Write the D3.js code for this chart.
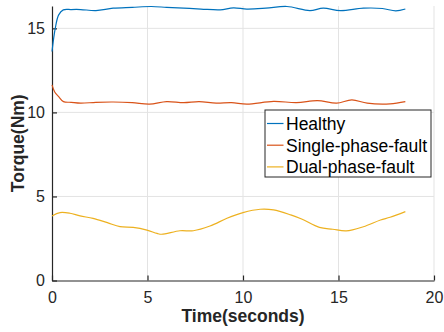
<!DOCTYPE html>
<html>
<head>
<meta charset="utf-8">
<script src="https://cdn.jsdelivr.net/npm/d3@7"></script>
<style>
  body { margin: 0; background: #fff; }
  svg { display: block; font-family: "Liberation Sans", Arial, sans-serif; }
</style>
</head>
<body>
<div id="chart"></div>
<script>
// values
const seriesNames = ['Healthy', 'Single-phase-fault', 'Dual-phase-fault'];
const seriesColors = ['#0072BD', '#D95319', '#EDB120'];

const healthyT = [0, 0.17, 0.35, 0.59, 1.0, 1.5, 2.3, 3.2, 4.2, 5.2, 6.0, 6.9, 7.8, 8.8, 9.5, 10.2, 11.2, 12.3, 13.5, 14.2, 15.1, 16.3, 17.3, 18.0, 18.5];
const healthyV = [13.62, 15.0, 15.8, 16.1, 16.12, 16.12, 16.06, 16.2, 16.25, 16.3, 16.25, 16.2, 16.15, 16.1, 16.22, 16.15, 16.2, 16.3, 16.06, 16.2, 16.06, 16.2, 16.18, 16.04, 16.15];

const singleT = [0, 0.15, 0.35, 0.6, 1.0, 1.5, 2.3, 3.2, 4.2, 5.1, 6.0, 6.9, 7.7, 8.6, 9.4, 10.2, 11.6, 12.8, 13.9, 14.9, 15.7, 16.5, 17.7, 18.5];
const singleV = [11.64, 11.2, 10.94, 10.64, 10.6, 10.55, 10.6, 10.62, 10.58, 10.49, 10.64, 10.58, 10.64, 10.55, 10.58, 10.49, 10.66, 10.58, 10.70, 10.55, 10.74, 10.55, 10.51, 10.64];

const dualT = [0, 0.42, 0.94, 1.47, 2.15, 2.9, 3.56, 4.25, 4.97, 5.5, 5.74, 6.7, 7.4, 8.27, 9.16, 10.0, 10.9, 11.6, 12.5, 13.1, 14.0, 14.7, 15.4, 16.3, 17.2, 17.7, 18.5];
const dualV = [3.84, 4.04, 4.0, 3.84, 3.70, 3.44, 3.2, 3.16, 3.0, 2.8, 2.75, 2.96, 2.96, 3.24, 3.70, 4.04, 4.24, 4.2, 3.9, 3.64, 3.16, 3.05, 2.95, 3.2, 3.6, 3.76, 4.1];

const xTicks = [0, 5, 10, 15, 20];
const yTicks = [0, 5, 10, 15];

const W = 444, H = 332;
const margin = { top: 6, right: 10, bottom: 51.5, left: 52 };
const width = W - margin.left - margin.right;
const height = H - margin.top - margin.bottom;

const x = d3.scaleLinear().domain([0, 20]).range([0, width]);
const y = d3.scaleLinear().domain([0, 16.33]).range([height, 0]);

const svg = d3.select('#chart').append('svg')
  .attr('width', W)
  .attr('height', H);
const g = svg.append('g')
  .attr('transform', 'translate(' + margin.left + ',' + margin.top + ')');

// grid
g.append('g').selectAll('line.gx')
  .data(xTicks.filter(d => d > 0))
  .enter().append('line')
  .attr('x1', d => x(d)).attr('x2', d => x(d))
  .attr('y1', 0).attr('y2', height)
  .attr('stroke', '#e3e3e3').attr('stroke-width', 1);
g.append('g').selectAll('line.gy')
  .data(yTicks.filter(d => d > 0))
  .enter().append('line')
  .attr('x1', 0).attr('x2', width)
  .attr('y1', d => y(d)).attr('y2', d => y(d))
  .attr('stroke', '#e3e3e3').attr('stroke-width', 1);

// axes
const axisColor = '#262626';
const xAxis = g.append('g')
  .attr('transform', 'translate(0,' + height + ')')
  .call(d3.axisBottom(x).tickValues(xTicks).tickSizeInner(-5).tickSizeOuter(0).tickPadding(11));
const yAxis = g.append('g')
  .call(d3.axisLeft(y).tickValues(yTicks).tickSizeInner(-5).tickSizeOuter(0).tickPadding(7));
[xAxis, yAxis].forEach(a => {
  a.select('.domain').attr('stroke', axisColor).attr('stroke-width', 1.2);
  a.selectAll('.tick line').attr('stroke', axisColor).attr('stroke-width', 1.2);
  a.selectAll('.tick text')
    .attr('fill', axisColor)
    .style('font-size', '16px')
    .style('font-family', '"Liberation Sans", Arial, sans-serif');
});

// series
const series = [
  { t: healthyT, v: healthyV },
  { t: singleT, v: singleV },
  { t: dualT, v: dualV }
];
const line = d3.line()
  .x(d => x(d[0]))
  .y(d => y(d[1]))
  .curve(d3.curveCatmullRom.alpha(0.5));

series.forEach((s, i) => {
  g.append('path')
    .datum(s.t.map((t, j) => [t, s.v[j]]))
    .attr('fill', 'none')
    .attr('stroke', seriesColors[i])
    .attr('stroke-width', 1.2)
    .attr('d', line);
});

// axis labels
svg.append('text')
  .attr('x', margin.left + width / 2)
  .attr('y', 322)
  .attr('text-anchor', 'middle')
  .attr('font-weight', 'bold')
  .attr('font-size', '17.5px')
  .attr('fill', axisColor)
  .text('Time(seconds)');

svg.append('text')
  .attr('transform', 'translate(24,' + (margin.top + height / 2) + ') rotate(-90)')
  .attr('text-anchor', 'middle')
  .attr('font-weight', 'bold')
  .attr('font-size', '17.5px')
  .attr('fill', axisColor)
  .text('Torque(Nm)');

// legend
const legend = svg.append('g').attr('transform', 'translate(265,110)');
legend.append('rect')
  .attr('width', 166).attr('height', 67)
  .attr('fill', '#fff')
  .attr('stroke', axisColor).attr('stroke-width', 1);
seriesNames.forEach((name, i) => {
  const cy = 13.5 + i * 21.7;
  legend.append('line')
    .attr('x1', 2).attr('x2', 18.5)
    .attr('y1', cy).attr('y2', cy)
    .attr('stroke', seriesColors[i]).attr('stroke-width', 1.2);
  legend.append('text')
    .attr('x', 21)
    .attr('y', cy + 6.3)
    .attr('font-size', '17.5px')
    .attr('fill', '#000')
    .text(name);
});
</script>
</body>
</html>
